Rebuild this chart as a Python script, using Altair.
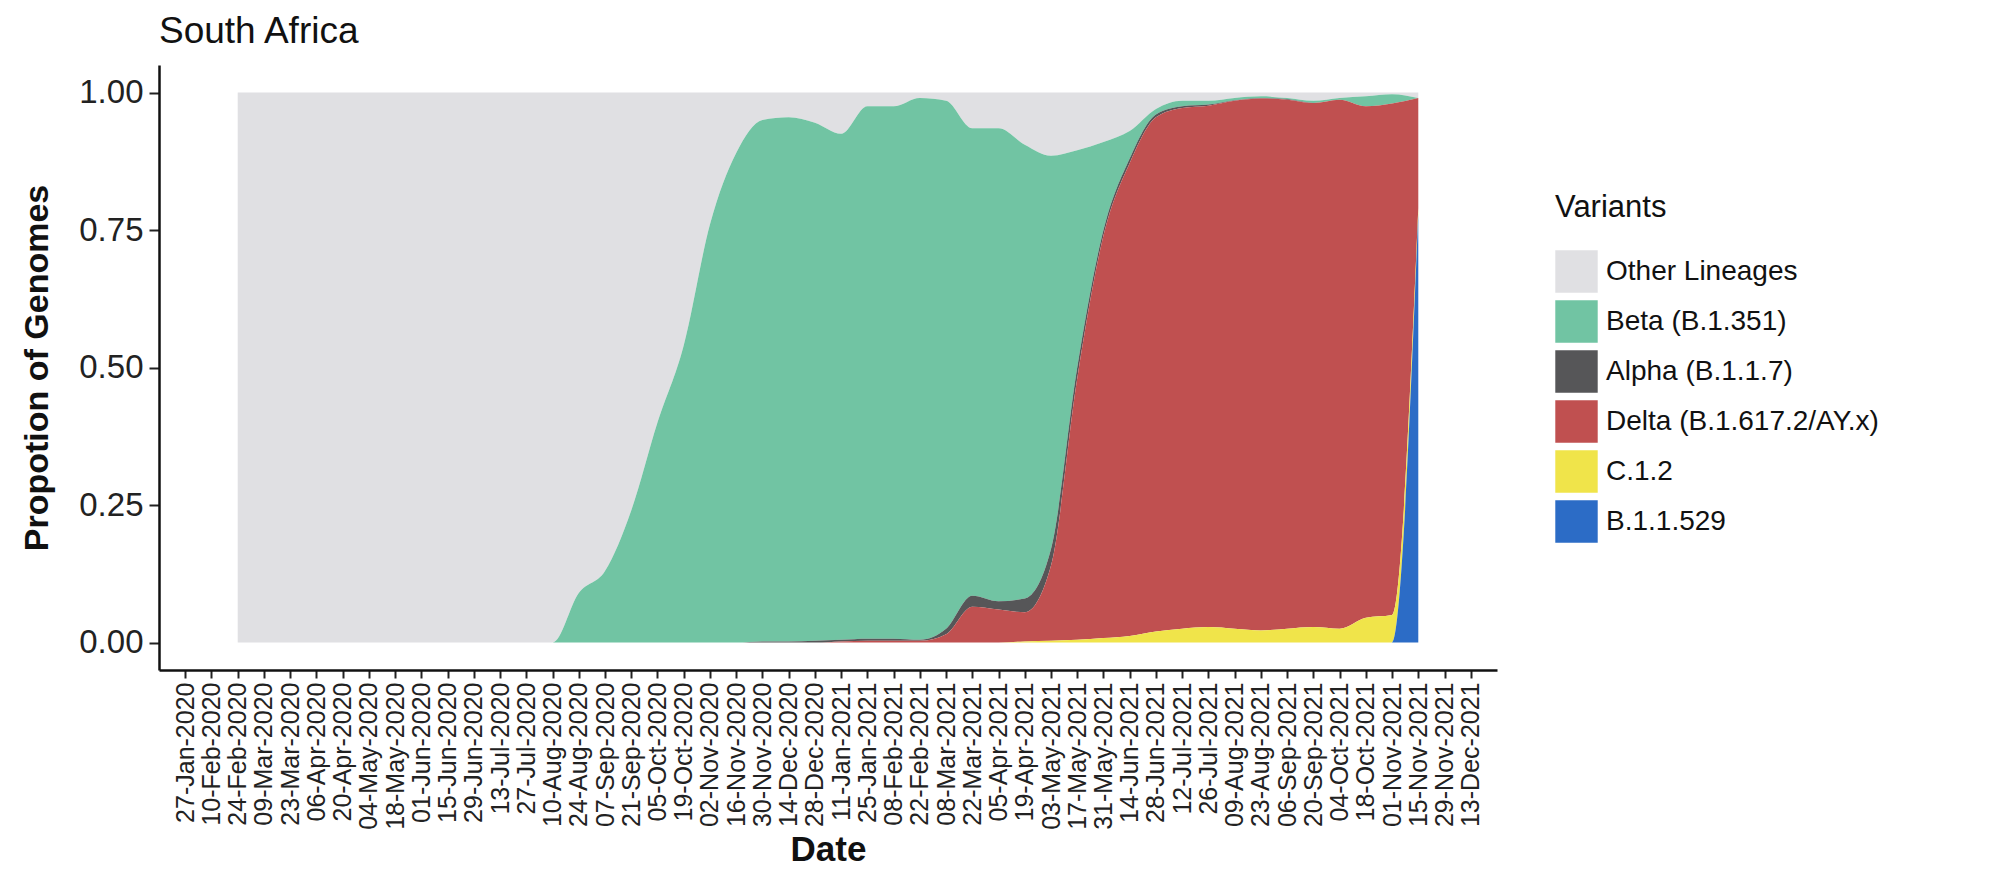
import altair as alt
import pandas as pd
from datetime import datetime, timezone

# Tick dates shown on the x axis (every two weeks)
tick_dates = [
    "2020-01-27", "2020-02-10", "2020-02-24", "2020-03-09", "2020-03-23", "2020-04-06",
    "2020-04-20", "2020-05-04", "2020-05-18", "2020-06-01", "2020-06-15", "2020-06-29",
    "2020-07-13", "2020-07-27", "2020-08-10", "2020-08-24", "2020-09-07", "2020-09-21",
    "2020-10-05", "2020-10-19", "2020-11-02", "2020-11-16", "2020-11-30", "2020-12-14",
    "2020-12-28", "2021-01-11", "2021-01-25", "2021-02-08", "2021-02-22", "2021-03-08",
    "2021-03-22", "2021-04-05", "2021-04-19", "2021-05-03", "2021-05-17", "2021-05-31",
    "2021-06-14", "2021-06-28", "2021-07-12", "2021-07-26", "2021-08-09", "2021-08-23",
    "2021-09-06", "2021-09-20", "2021-10-04", "2021-10-18", "2021-11-01", "2021-11-15",
    "2021-11-29", "2021-12-13",
]

# Sample dates of the data (24-Feb-2020 .. 15-Nov-2021)
dates = tick_dates[2:48]

variants = ["Other Lineages", "Beta (B.1.351)", "Alpha (B.1.1.7)",
            "Delta (B.1.617.2/AY.x)", "C.1.2", "B.1.1.529"]
colors = ["#E0E0E3", "#71C4A3", "#565658", "#C05050", "#F0E44A", "#2C6CC6"]

other = [1.0] * 12 + [1.0, 0.91, 0.87, 0.76, 0.60, 0.46, 0.24, 0.11, 0.05, 0.045,
                      0.055, 0.075, 0.025, 0.025, 0.01, 0.015, 0.065, 0.065, 0.095, 0.115,
                      0.105, 0.09, 0.07, 0.03, 0.015, 0.015, 0.01, 0.007, 0.01, 0.015,
                      0.01, 0.007, 0.003, 0.01]
beta = [0.0] * 12 + [0.0, 0.09, 0.13, 0.24, 0.40, 0.54, 0.76, 0.89, 0.948, 0.953,
                     0.942, 0.92, 0.968, 0.968, 0.985, 0.96, 0.85, 0.86, 0.825, 0.715,
                     0.395, 0.16, 0.05, 0.01, 0.01, 0.007, 0.004, 0.003, 0.002, 0.004,
                     0.003, 0.018, 0.017, 0.0]
alpha = [0.0] * 20 + [0.002, 0.002, 0.003, 0.003, 0.004, 0.004, 0.002, 0.01, 0.02, 0.015,
                      0.025, 0.03, 0.02, 0.01, 0.008, 0.005, 0.003, 0.002, 0.001, 0.001,
                      0.001, 0.0, 0.0, 0.0, 0.0, 0.0]
delta = [0.0] * 23 + [0.002, 0.003, 0.003, 0.003, 0.015, 0.065, 0.06, 0.053, 0.137, 0.475,
                      0.732, 0.86, 0.935, 0.947, 0.948, 0.96, 0.967, 0.962, 0.953, 0.962,
                      0.93, 0.93, 0.20]
c12 = [0.0] * 30 + [0.002, 0.003, 0.005, 0.008, 0.012, 0.02, 0.025, 0.028, 0.025, 0.022,
                    0.025, 0.028, 0.025, 0.045, 0.05, 0.01]
b11529 = [0.0] * 45 + [0.78]

series = [other, beta, alpha, delta, c12, b11529]
# stacking order: bottom -> top = B.1.1.529, C.1.2, Delta, Alpha, Beta, Other
stack_rank = [5, 4, 3, 2, 1, 0]

rows = []
for name, vals, rk in zip(variants, series, stack_rank):
    for d, v in zip(dates, vals):
        rows.append({"date": d, "variant": name, "value": v, "ord": rk})
df = pd.DataFrame(rows)


def ms(s):
    return datetime.strptime(s, "%Y-%m-%d").replace(tzinfo=timezone.utc).timestamp() * 1000


tick_ms = [ms(d) for d in tick_dates]
x_domain = [ms("2020-01-13"), ms("2021-12-27")]

FONT = "Liberation Sans"

chart = alt.Chart(df).mark_area(interpolate="monotone", strokeWidth=0).encode(
    x=alt.X("date:T",
            scale=alt.Scale(type="utc", domain=x_domain, nice=False),
            axis=alt.Axis(values=tick_ms,
                          labelExpr="utcFormat(datum.value, '%d-%b-%Y')",
                          labelAngle=270, labelFontSize=25, labelColor="#222222",
                          labelFont=FONT, labelOverlap=False, labelPadding=4,
                          labelLimit=0,
                          tickSize=8, tickWidth=2, tickColor="#222222",
                          domainColor="#111111", domainWidth=2.5, grid=False,
                          title="Date", titleFontSize=35, titleFont=FONT,
                          titleFontWeight="bold", titleColor="#111111", titlePadding=3)),
    y=alt.Y("value:Q", stack="zero",
            scale=alt.Scale(domain=[-0.05, 1.05], nice=False, zero=False),
            axis=alt.Axis(values=[0, 0.25, 0.5, 0.75, 1.0], format=".2f",
                          labelFontSize=33, labelColor="#222222", labelFont=FONT,
                          labelPadding=6, tickSize=10, tickWidth=2, tickColor="#222222",
                          domainColor="#111111", domainWidth=2.5, grid=False,
                          title="Propotion of Genomes", titleFontSize=34, titleFont=FONT,
                          titleFontWeight="bold", titleColor="#111111", titlePadding=24)),
    color=alt.Color("variant:N",
                    scale=alt.Scale(domain=variants, range=colors),
                    legend=alt.Legend(title="Variants", orient="none",
                                      legendX=1396, legendY=128,
                                      symbolType="square", symbolSize=1800,
                                      symbolStrokeWidth=0, symbolOpacity=1,
                                      titleFontSize=31, titleFontWeight="normal",
                                      titleFont=FONT, titleColor="#111111",
                                      titlePadding=26, titleLimit=0,
                                      labelFontSize=28, labelFont=FONT,
                                      labelColor="#111111", labelOffset=8,
                                      labelLimit=0,
                                      rowPadding=7)),
    order=alt.Order("ord:Q", sort="ascending"),
).properties(
    width=1338,
    height=605,
    title=alt.TitleParams("South Africa", anchor="start", frame="group", fontSize=37,
                          font=FONT, fontWeight="normal", color="#111111", offset=14),
    autosize=alt.AutoSizeParams(type="none"),
    padding={"left": 151, "top": 57, "right": 500, "bottom": 200},
).configure_view(stroke=None)

chart.save("out.html", embed_options={"renderer": "svg", "actions": False})
